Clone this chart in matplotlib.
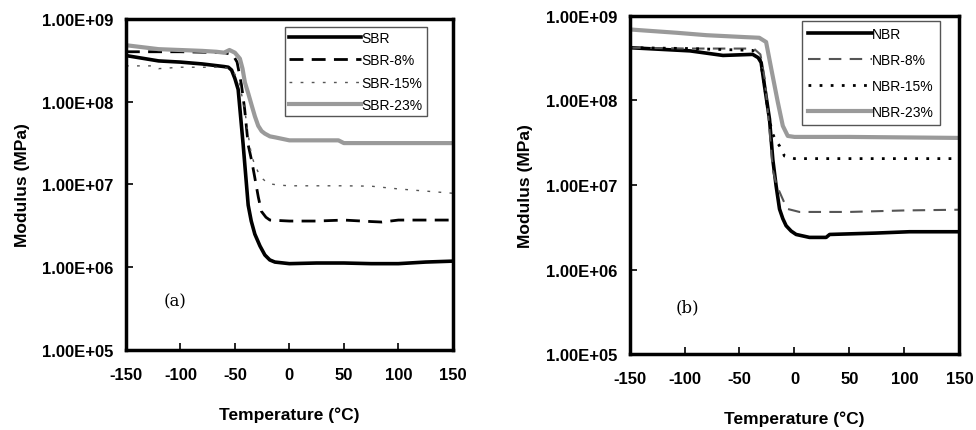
import matplotlib.pyplot as plt

plt.rcParams['font.family'] = ['Liberation Sans', 'DejaVu Sans']

# ---- data ----
# (a) SBR
sbr_t = [-150, -120, -100, -80, -60, -56, -53, -50, -47, -42.4, -37.8, -35, -31.7, -27, -22.5, -18, -13.3, 0, 25, 50, 75, 100, 125, 150]
sbr_v = [3.6e8, 3.1e8, 3.0e8, 2.85e8, 2.65e8, 2.6e8, 2.4e8, 1.9e8, 1.4e8, 3.0e7, 5.6e6, 3.6e6, 2.5e6, 1.8e6, 1.4e6, 1.22e6, 1.15e6, 1.1e6, 1.12e6, 1.12e6, 1.1e6, 1.1e6, 1.15e6, 1.18e6]

sbr8_t = [-150, -100, -60, -52, -48, -44, -41, -37.8, -34.5, -31.7, -28.5, -25.6, -21.5, -17.9, 0, 25, 50, 75, 85, 100, 150]
sbr8_v = [4.0e8, 4.0e8, 3.9e8, 3.7e8, 3.0e8, 1.6e8, 8e7, 3.0e7, 1.9e7, 1.2e7, 7e6, 4.7e6, 4.0e6, 3.7e6, 3.6e6, 3.6e6, 3.7e6, 3.55e6, 3.5e6, 3.7e6, 3.7e6]

sbr15_t = [-150, -125, -120, -100, -60, -52, -46, -41, -37.8, -34.7, -31.5, -28.6, -24, -19.5, -10, 0, 50, 75, 100, 150]
sbr15_v = [2.7e8, 2.7e8, 2.5e8, 2.6e8, 2.6e8, 2.4e8, 1.7e8, 8e7, 4e7, 2.2e7, 1.7e7, 1.4e7, 1.15e7, 1.02e7, 9.8e6, 9.6e6, 9.6e6, 9.5e6, 8.8e6, 7.8e6]

sbr23_t = [-150, -120, -80, -67, -60, -55, -50, -45.4, -43, -40.8, -37.7, -34.7, -31.6, -28.6, -25.5, -22.5, -17.9, -13.3, 0, 45, 50, 100, 150]
sbr23_v = [4.8e8, 4.3e8, 4.1e8, 4.0e8, 3.9e8, 4.2e8, 3.9e8, 3.3e8, 2.5e8, 1.7e8, 1.25e8, 9.1e7, 6.6e7, 5.1e7, 4.4e7, 4.1e7, 3.8e7, 3.7e7, 3.4e7, 3.4e7, 3.15e7, 3.15e7, 3.15e7]

# (b) NBR
nbr_t = [-150, -95, -65, -38, -33, -30.3, -27.3, -22.7, -19.7, -16.7, -13.6, -10.6, -7.6, -3, 1.5, 13.6, 28.8, 32, 74, 104.5, 150]
nbr_v = [4.2e8, 3.85e8, 3.4e8, 3.5e8, 3.2e8, 2.8e8, 1.5e8, 6e7, 2e7, 9.8e6, 5.2e6, 4.0e6, 3.3e6, 2.85e6, 2.6e6, 2.4e6, 2.4e6, 2.6e6, 2.7e6, 2.8e6, 2.8e6]

nbr8_t = [-150, -95, -37, -31, -27, -23, -19.7, -16.7, -13.6, -10, -6.1, 4.5, 50, 100, 150]
nbr8_v = [4.2e8, 4.1e8, 4.1e8, 3.5e8, 1.8e8, 5e7, 1.5e7, 1.05e7, 8.3e6, 6.5e6, 5.2e6, 4.8e6, 4.8e6, 5.0e6, 5.1e6]

nbr15_t = [-150, -95, -38, -31, -27, -23, -19.7, -16.7, -13.6, -9.1, 0, 50, 100, 150]
nbr15_v = [4.2e8, 4.1e8, 3.9e8, 3.0e8, 1.4e8, 6e7, 4.0e7, 3.3e7, 2.9e7, 2.2e7, 2.05e7, 2.05e7, 2.05e7, 2.05e7]

nbr23_t = [-150, -107, -80, -45, -32, -25.8, -21.2, -15.2, -10.6, -6.1, 0, 50, 100, 150]
nbr23_v = [6.9e8, 6.3e8, 5.9e8, 5.6e8, 5.5e8, 4.9e8, 2.4e8, 9.6e7, 5e7, 3.8e7, 3.7e7, 3.7e7, 3.65e7, 3.6e7]

x_ticks = [-150, -100, -50, 0, 50, 100, 150]
y_ticks = [1e5, 1e6, 1e7, 1e8, 1e9]
y_labels = ['1.00E+05', '1.00E+06', '1.00E+07', '1.00E+08', '1.00E+09']

fig = plt.figure(figsize=(9.76, 4.31), dpi=100)
ax1 = fig.add_axes([0.129, 0.186, 0.335, 0.768])
ax2 = fig.add_axes([0.645, 0.176, 0.338, 0.785])


def style(ax):
    ax.set_yscale('log')
    ax.set_xlim(-150, 150)
    ax.set_ylim(1e5, 1e9)
    ax.set_xticks(x_ticks)
    ax.set_xticklabels([str(t) for t in x_ticks])
    ax.set_yticks(y_ticks)
    ax.set_yticklabels(y_labels)
    ax.minorticks_off()
    ax.tick_params(axis='both', direction='in', length=5, width=1.2, labelsize=12)
    ax.tick_params(axis='y', pad=9)
    ax.tick_params(axis='x', pad=12)
    for lab in ax.get_xticklabels() + ax.get_yticklabels():
        lab.set_fontweight('bold')
    for sp in ax.spines.values():
        sp.set_linewidth(2.5)
    ax.set_xlabel('Temperature (°C)', fontsize=12.5, fontweight='bold', labelpad=18)
    ax.set_ylabel('Modulus (MPa)', fontsize=12.5, fontweight='bold', labelpad=9)


ax1.plot(sbr_t, sbr_v, color='black', lw=2.6, label='SBR')
ax1.plot(sbr8_t, sbr8_v, color='black', lw=2, ls=(0, (5, 3)), label='SBR-8%')
ax1.plot(sbr15_t, sbr15_v, color='#555555', lw=1, ls=(0, (2, 6)), label='SBR-15%')
ax1.plot(sbr23_t, sbr23_v, color='#9a9a9a', lw=3, label='SBR-23%')
style(ax1)
ax1.text(-105, 3.9e5, '(a)', fontsize=12, family='DejaVu Serif', ha='center', va='center')
ax1.legend(loc='upper right', bbox_to_anchor=(0.92, 0.976), fancybox=False, framealpha=1,
           edgecolor='#555555', fontsize=10, handlelength=5.2, handletextpad=0,
           labelspacing=0.6, borderpad=0.3, borderaxespad=0).get_frame().set_linewidth(1)

ax2.plot(nbr_t, nbr_v, color='black', lw=2.6, label='NBR')
ax2.plot(nbr8_t, nbr8_v, color='#555555', lw=1.5, ls=(0, (6, 4)), label='NBR-8%')
ax2.plot(nbr15_t, nbr15_v, color='black', lw=2, ls=(0, (1, 3)), label='NBR-15%')
ax2.plot(nbr23_t, nbr23_v, color='#9a9a9a', lw=3, label='NBR-23%')
style(ax2)
ax2.text(-97, 3.6e5, '(b)', fontsize=12, family='DejaVu Serif', ha='center', va='center')
ax2.legend(loc='upper right', bbox_to_anchor=(0.942, 0.985), fancybox=False, framealpha=1,
           edgecolor='#555555', fontsize=10, handlelength=4.6, handletextpad=0,
           labelspacing=0.85, borderpad=0.45, borderaxespad=0).get_frame().set_linewidth(1)

fig.savefig('out.png', dpi=100)
